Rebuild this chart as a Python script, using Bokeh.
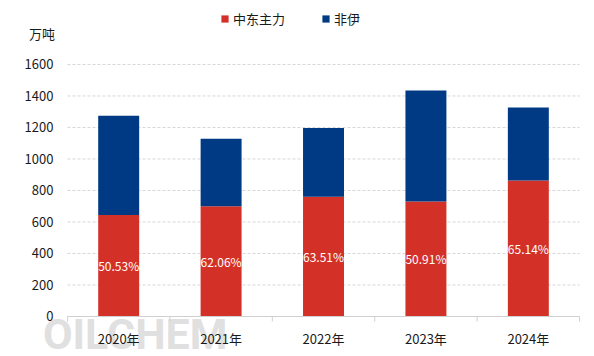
from bokeh.plotting import figure
from bokeh.models import ColumnDataSource, Range1d, Legend, LegendItem
from bokeh.core.properties import value
from bokeh.embed import file_html
from bokeh.resources import INLINE

years = ["2020年", "2021年", "2022年", "2023年", "2024年"]
mideast = [645, 700, 760, 730, 864]
others = [630, 428, 437, 705, 463]
shares = ["50.53%", "62.06%", "63.51%", "50.91%", "65.14%"]
y_ticks = [0, 200, 400, 600, 800, 1000, 1200, 1400, 1600]
unit = "万吨"

FONT = "Noto Sans CJK SC"
RED = "#D33127"
BLUE = "#003A85"
TXT = "#1a1a1a"

n = len(years)
xs = [i + 0.5 for i in range(n)]
bounds = list(range(n + 1))
totals = [a + b for a, b in zip(mideast, others)]
src = ColumnDataSource(dict(
    x=xs, me=mideast, tot=totals, mid=[m / 2 for m in mideast], share=shares, year=years,
))

# whole canvas is the frame; axes drawn as glyphs
p = figure(width=594, height=356, output_backend="svg", toolbar_location=None,
           x_range=Range1d(-0.654, 5.146), y_range=Range1d(-254, 2006),
           x_axis_location=None, y_axis_location=None,
           min_border_left=0, min_border_right=0, min_border_top=0, min_border_bottom=0)
p.outline_line_color = None
p.xgrid.visible = False
p.ygrid.visible = False

# watermark
p.text(x=[-0.24], y=[-108], text=["OILCHEM"],
       text_font=value("Roboto"),
       text_font_size="43px", text_font_style="bold", text_color="#e0e0e0",
       text_baseline="alphabetic", text_align="left")

# grid lines
p.segment(x0=[0] * (len(y_ticks) - 1), x1=[n] * (len(y_ticks) - 1),
          y0=y_ticks[1:], y1=y_ticks[1:], line_color="#d6d6d6", line_dash="3 2", line_width=1)

r1 = p.vbar(x="x", top="me", bottom=0, width=0.4, source=src, fill_color=RED, line_color=None)
r2 = p.vbar(x="x", top="tot", bottom="me", width=0.4, source=src, fill_color=BLUE, line_color=None)

# x axis line and boundary ticks
p.segment(x0=[0], x1=[n], y0=[0], y1=[0], line_color="#d0d0d0", line_width=1)
p.segment(x0=bounds, x1=bounds, y0=[0] * len(bounds), y1=[-32] * len(bounds),
          line_color="#d0d0d0", line_width=1)

# share labels
p.text(x="x", y="mid", text="share", source=src, text_font=value(FONT), text_font_size="12px",
       text_color="white", text_align="center", text_baseline="middle")

# x labels
p.text(x="x", y=-140, text="year", source=src, text_font=value(FONT),
       text_font_size="13px", text_color=TXT, text_align="center", text_baseline="middle")

# y labels
p.text(x=[-0.137] * len(y_ticks), y=y_ticks, text=[str(t) for t in y_ticks],
       text_font=value(FONT), text_font_size="13px", text_color=TXT,
       text_align="right", text_baseline="middle")

# unit
p.text(x=[-0.375], y=[1797], text=[unit], text_font=value(FONT), text_font_size="13px",
       text_color=TXT, text_align="left", text_baseline="middle")

legend = Legend(items=[LegendItem(label="中东主力", renderers=[r1]),
                       LegendItem(label="非伊", renderers=[r2])],
                orientation="horizontal", location=(220, 328), padding=0, margin=0,
                spacing=36, glyph_width=9, glyph_height=9, label_standoff=4,
                label_text_font=FONT, label_text_font_size="13px", label_text_color=TXT,
                border_line_color=None, background_fill_alpha=0)
p.add_layout(legend)

open("out.html", "w").write(file_html(p, INLINE))
